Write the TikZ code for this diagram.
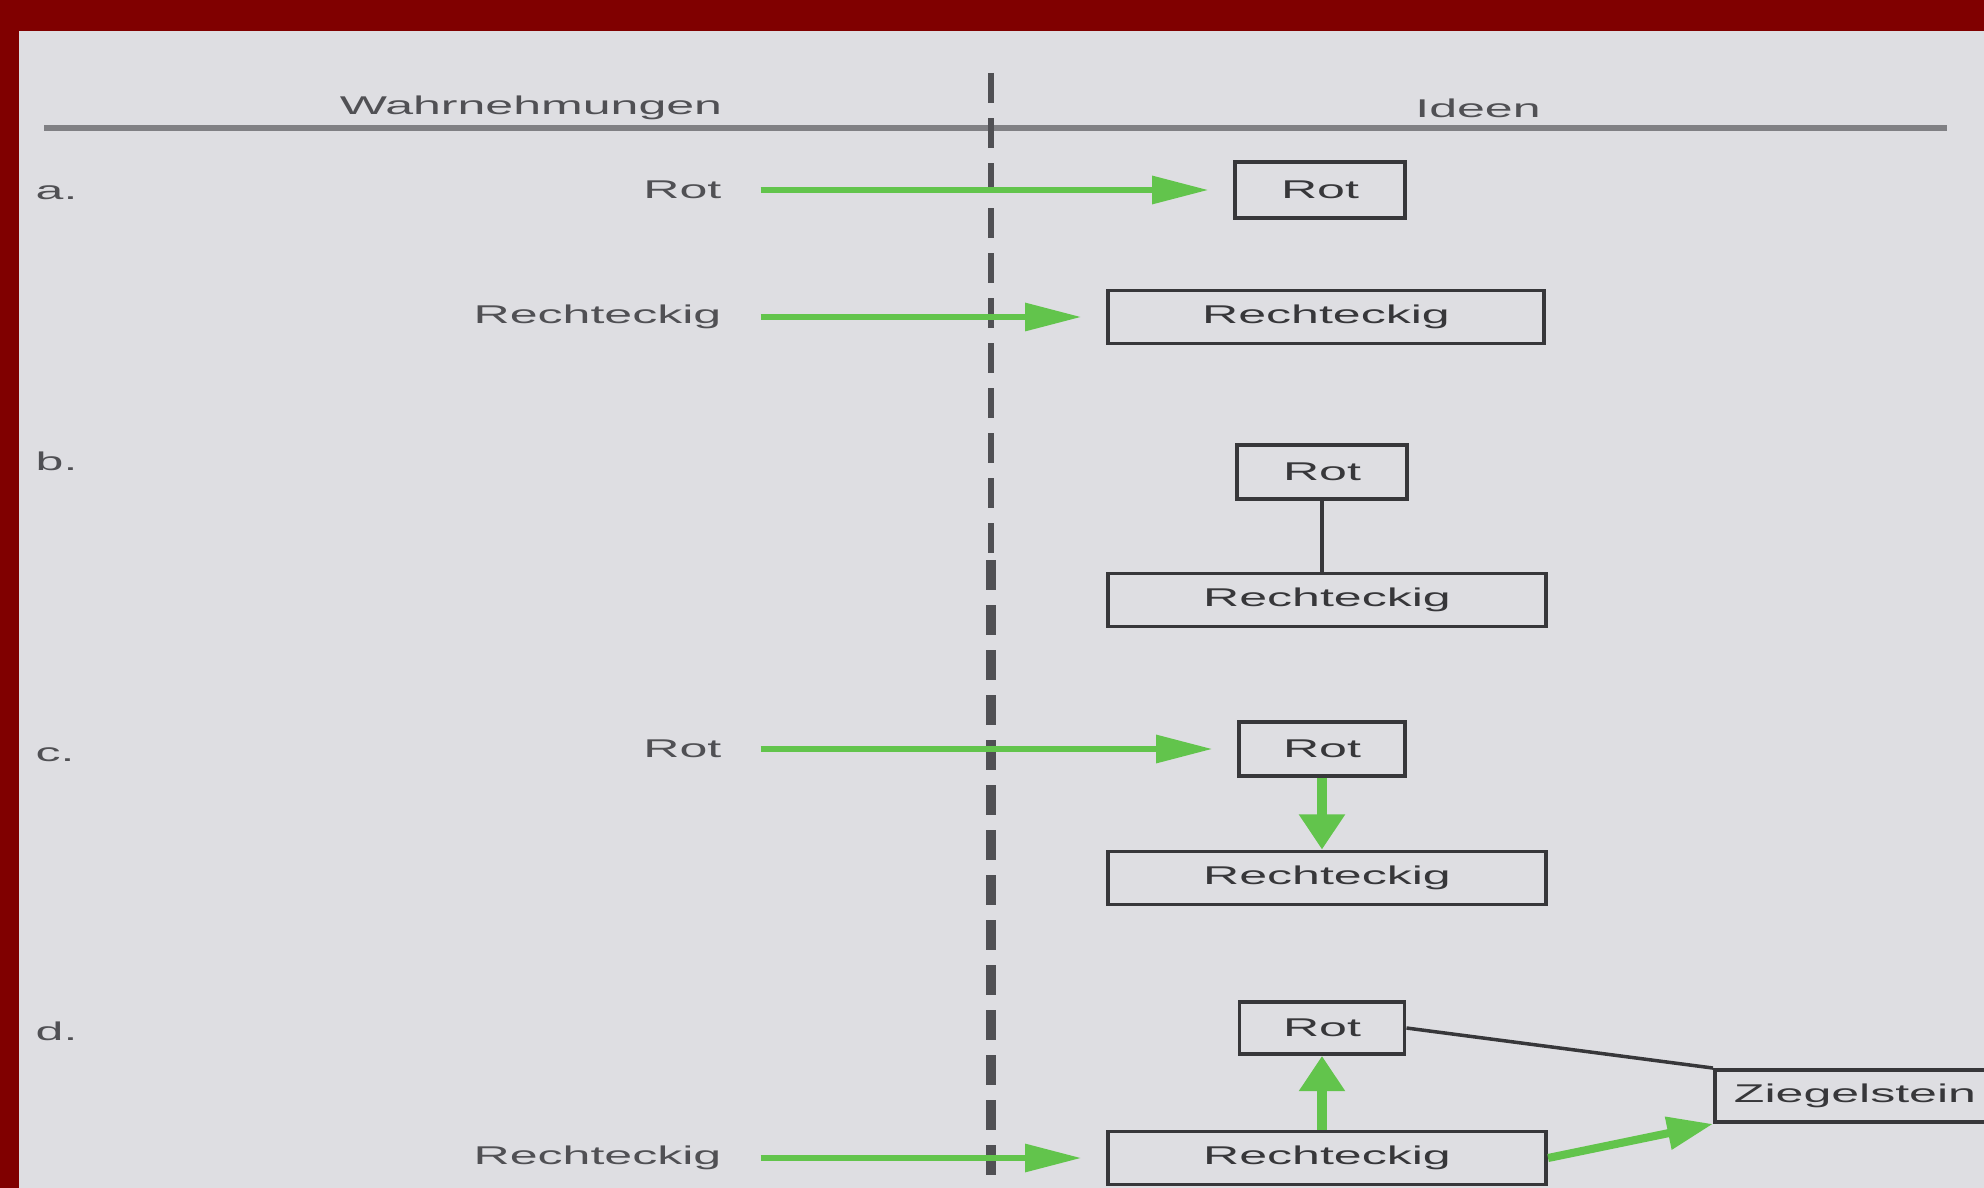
\documentclass[tikz,border=0pt]{standalone}
\usepackage{fontspec}
\setmainfont[FakeStretch=1.95]{Liberation Sans}
\usetikzlibrary{arrows.meta}
\definecolor{frame}{RGB}{128,0,0}
\definecolor{paper}{RGB}{222,222,226}
\definecolor{grn}{RGB}{98,196,76}
\definecolor{ink}{RGB}{55,55,58}
\definecolor{soft}{RGB}{80,80,84}
\definecolor{rulec}{RGB}{128,128,132}
\tikzset{
  box/.style={draw=ink, line width=1.1pt, text=ink, inner sep=0pt, minimum height=0.54cm},
  lbl/.style={text=soft, inner sep=0pt},
  harrow/.style={draw=grn, line width=1.7pt, -{Triangle[length=16pt,width=7.7pt]}, shorten <=11pt, shorten >=7pt},
  varrow/.style={draw=grn, line width=3pt, -{Triangle[length=10pt,width=12.5pt]}},
  darrow/.style={draw=grn, line width=2.3pt, -{Triangle[length=13pt,width=9pt]}},
  divider/.style={draw=soft, dash pattern=on 8.5pt off 4.3pt},
}
\begin{document}
\begin{tikzpicture}[x=0.01cm, y=-0.01cm, font=\fontsize{7.3}{8.5}\selectfont]
\useasboundingbox (0,0) rectangle (1984,1188);
\clip (0,0) rectangle (1984,1188);
\fill[frame] (0,0) rectangle (1984,1188);
\fill[paper] (19,31) rectangle (1984,1188);

% header
\node[lbl] (hw) at (531,108) {Wahrnehmungen};
\node[lbl] (hi) at (1478,108) {Ideen};
\coordinate (hl) at (44,128);
\coordinate (hr) at (1947,128);
\draw[rulec, line width=1.5pt] (hl) -- (hr);

% divider
\coordinate (dt) at (991,73);
\coordinate (dm) at (991,560);
\coordinate (db) at (991,1195);
\draw[divider, line width=1.5pt] (dt) -- (dm);
\draw[divider, line width=2.6pt] (dm) -- (db);

% row labels
\node[lbl, anchor=west] (la) at (35,193) {a.};
\node[lbl, anchor=west] (lb) at (35,461) {b.};
\node[lbl, anchor=west] (lc) at (35,755) {c.};
\node[lbl, anchor=west] (ld) at (35,1031) {d.};

% a
\node[lbl, anchor=east] (aRl) at (722,190) {Rot};
\node[box, minimum width=1.70cm, minimum height=0.56cm] (aR) at (1320,190) {Rot};
\node[lbl, anchor=east] (aEl) at (722,317) {Rechteckig};
\node[box, minimum width=4.36cm, minimum height=0.53cm] (aE) at (1326,317) {Rechteckig};
\draw[harrow] (aRl) -- (aR);
\draw[harrow] (aEl) -- (aE);

% b
\node[box, minimum width=1.70cm, minimum height=0.54cm] (bR) at (1322,472) {Rot};
\node[box, minimum width=4.38cm, minimum height=0.53cm] (bE) at (1327,600) {Rechteckig};
\draw[ink, line width=1.3pt] (bR.south) -- (bR.south |- bE.north);

% c
\node[lbl, anchor=east] (cRl) at (722,749) {Rot};
\node[box, minimum width=1.66cm, minimum height=0.54cm] (cR) at (1322,749) {Rot};
\node[box, minimum width=4.38cm, minimum height=0.53cm] (cE) at (1327,878) {Rechteckig};
\draw[harrow] (cRl) -- (cR);
\draw[varrow] (cR.south) -- (cR.south |- cE.north);

% d
\node[box, minimum width=1.65cm, minimum height=0.52cm] (dR) at (1322,1028) {Rot};
\node[lbl, anchor=east] (dEl) at (722,1158) {Rechteckig};
\node[box, minimum width=4.38cm, minimum height=0.53cm] (dE) at (1327,1158) {Rechteckig};
\node[box, minimum width=2.80cm, minimum height=0.52cm] (dZ) at (1855,1096) {Ziegelstein};
\draw[harrow] (dEl) -- (dE);
\draw[varrow] (dE.north -| dR.south) -- (dR.south);
\draw[ink, line width=1pt] (dR.east) -- (dZ.north west);
\draw[darrow] (dE.east) -- (dZ.south west);
\end{tikzpicture}
\end{document}
